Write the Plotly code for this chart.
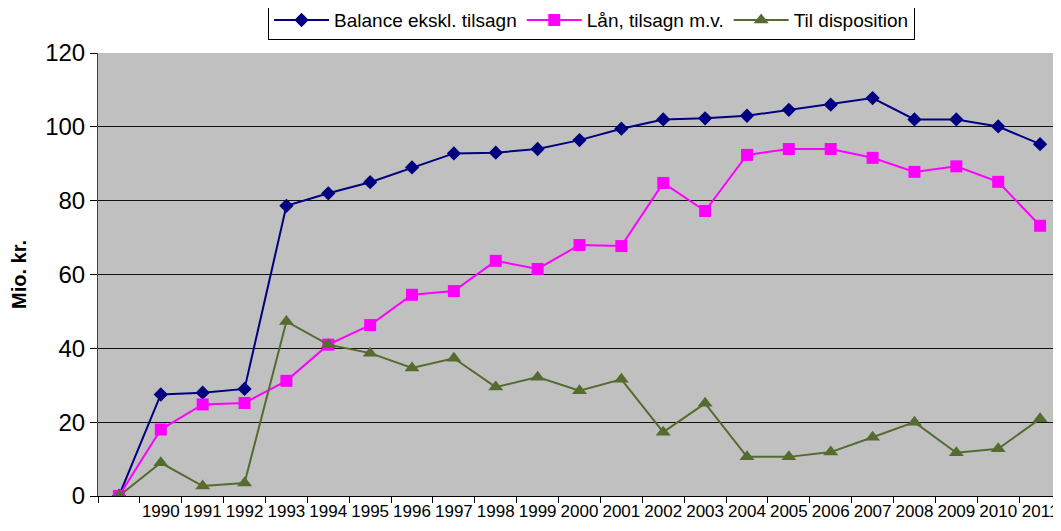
import plotly.graph_objects as go

categories = [" "] + [str(y) for y in range(1990, 2012)]

balance = [0, 27.5, 28, 29, 78.6, 82, 85, 89, 92.8, 93, 94, 96.4, 99.5, 102, 102.3, 103, 104.6, 106, 107.8, 102, 102, 100.1, 95.3]
laan = [0, 18, 24.8, 25.2, 31.2, 41, 46.3, 54.5, 55.5, 63.7, 61.5, 68, 67.7, 84.8, 77.2, 92.4, 94, 94, 91.6, 87.8, 89.3, 85.1, 73.2]
til_disp = [0, 9, 2.7, 3.5, 47.3, 41, 38.7, 34.7, 37.3, 29.5, 32.2, 28.5, 31.6, 17.3, 25.1, 10.6, 10.6, 11.9, 15.9, 20, 11.7, 12.8, 20.9]

series_names = ["Balance ekskl. tilsagn", "Lån, tilsagn m.v.", "Til disposition"]

FONT = "Liberation Sans, Arial, sans-serif"

fig = go.Figure()
fig.add_trace(go.Scatter(
    x=categories, y=balance, name=series_names[0], mode="lines+markers",
    line=dict(color="#000080", width=2),
    marker=dict(symbol="diamond", size=11, color="#000080"),
))
fig.add_trace(go.Scatter(
    x=categories, y=laan, name=series_names[1], mode="lines+markers",
    line=dict(color="#FF00FF", width=2),
    marker=dict(symbol="square", size=12, color="#FF00FF"),
))
fig.add_trace(go.Scatter(
    x=categories, y=til_disp, name=series_names[2], mode="lines+markers",
    line=dict(color="#556B2F", width=2),
    marker=dict(symbol="triangle-up", size=13, color="#556B2F"),
))

fig.update_layout(
    width=1053, height=523,
    margin=dict(l=90, r=0, t=45, b=35, autoexpand=False),
    paper_bgcolor="white",
    plot_bgcolor="#C0C0C0",
    font=dict(family=FONT, color="black"),
    showlegend=True,
    legend=dict(
        orientation="h", x=0.5125, xanchor="center", y=1.029, yanchor="bottom",
        bordercolor="#000000", borderwidth=1, bgcolor="white",
        font=dict(size=19, family=FONT), itemwidth=55,
    ),
    xaxis=dict(
        type="category", categoryorder="array", categoryarray=categories,
        tickson="boundaries", ticks="outside", ticklen=6, tickcolor="black",
        showline=True, linecolor="black", linewidth=1, tickangle=0,
        showgrid=False, tickfont=dict(size=17, family=FONT),
        range=[-0.5, 22.5],
    ),
    yaxis=dict(
        range=[0, 120], dtick=20, ticks="outside", ticklen=7, tickcolor="black",
        showline=True, linecolor="#404040", linewidth=1,
        showgrid=True, gridcolor="#111111", gridwidth=1,
        zeroline=False,
        tickfont=dict(size=24, family=FONT),
        title=dict(text="<b>Mio. kr.</b>", font=dict(size=20, family=FONT), standoff=14),
    ),
)

fig.write_html("out.html")
